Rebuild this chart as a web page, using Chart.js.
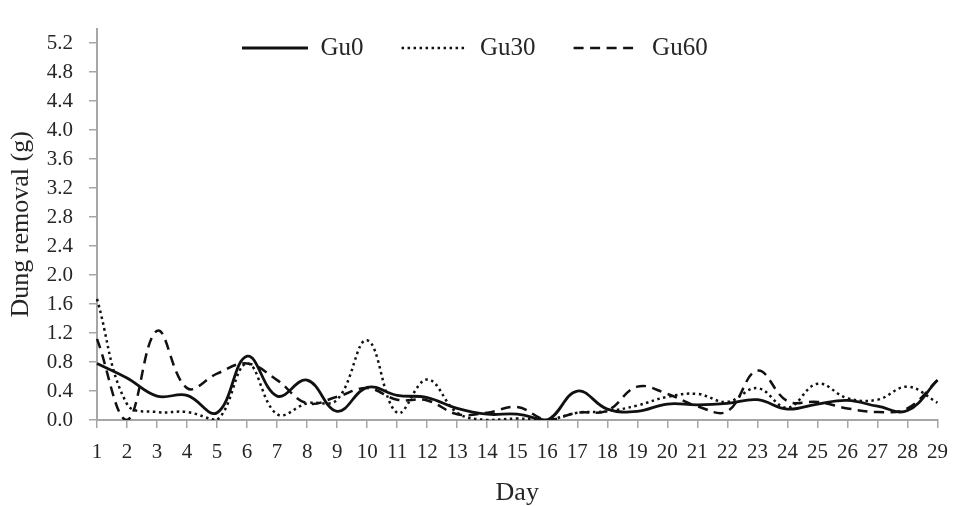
<!DOCTYPE html>
<html>
<head>
<meta charset="utf-8">
<script src="https://cdn.jsdelivr.net/npm/chart.js@4"></script>
<style>
  html, body { margin: 0; padding: 0; background: #ffffff; }
  #wrap { width: 960px; height: 506px; }
</style>
</head>
<body>
<div id="wrap"><canvas id="c" width="960" height="506"></canvas></div>
<script>
const days = ['1','2','3','4','5','6','7','8','9','10','11','12','13','14','15','16','17','18','19','20','21','22','23','24','25','26','27','28','29'];
const gu0  = [0.78,0.58,0.33,0.34,0.10,0.88,0.33,0.55,0.12,0.45,0.34,0.31,0.16,0.08,0.08,0.00,0.40,0.15,0.12,0.22,0.21,0.23,0.28,0.15,0.22,0.27,0.19,0.13,0.55];
const gu30 = [1.67,0.22,0.11,0.11,0.00,0.78,0.08,0.23,0.28,1.10,0.10,0.56,0.10,0.00,0.02,0.00,0.10,0.12,0.20,0.32,0.36,0.25,0.44,0.17,0.50,0.30,0.28,0.46,0.24];
const gu60 = [1.12,0.00,1.23,0.44,0.64,0.78,0.55,0.23,0.32,0.44,0.28,0.27,0.08,0.10,0.18,0.00,0.10,0.13,0.46,0.36,0.19,0.12,0.68,0.26,0.25,0.16,0.11,0.16,0.55];
const seriesNames = ['Gu0','Gu30','Gu60'];
const yTickValues = [0,0.4,0.8,1.2,1.6,2.0,2.4,2.8,3.2,3.6,4.0,4.4,4.8,5.2];
const yMax = 5.4;
const xTitle = 'Day';
const yTitle = 'Dung removal (g)';

const FONT = "'Liberation Serif', 'Times New Roman', serif";
const TEXT = '#262626';
const AXIS = '#a6a6a6';
const LINE = '#111111';

const legendPlacer = {
  id: 'legendPlacer',
  beforeLayout(chart) {
    const lg = chart.legend;
    if (lg) lg.isHorizontal = () => true;
  },
  afterLayout(chart) {
    const lg = chart.legend;
    if (!lg) return;
    const pad = lg.options.labels.padding;
    lg.left = 242 - pad;
    lg.right = lg.left + 800;
    lg.top = 48 - pad - lg.options.labels.font.size / 2;
  }
};

new Chart(document.getElementById('c'), {
  type: 'line',
  data: {
    labels: days,
    datasets: [
      { label: seriesNames[0], data: gu0, borderColor: LINE, backgroundColor: LINE, borderWidth: 2.8, borderDash: [], pointRadius: 0, tension: 0.4, fill: false },
      { label: seriesNames[1], data: gu30, borderColor: LINE, backgroundColor: LINE, borderWidth: 2.5, borderDash: [2.5, 3.5], pointRadius: 0, tension: 0.4, fill: false },
      { label: seriesNames[2], data: gu60, borderColor: LINE, backgroundColor: LINE, borderWidth: 2.5, borderDash: [10, 6.5], pointRadius: 0, tension: 0.4, fill: false }
    ]
  },
  options: {
    responsive: false,
    animation: false,
    devicePixelRatio: 1,
    layout: { padding: { top: 15, right: 14, left: 0, bottom: 0 } },
    plugins: {
      legend: {
        position: 'chartArea',
        align: 'start',
        labels: {
          usePointStyle: true,
          pointStyle: 'line',
          pointStyleWidth: 66,
          padding: 38,
          color: TEXT,
          font: { family: FONT, size: 25 },
          generateLabels(chart) {
            const items = Chart.defaults.plugins.legend.labels.generateLabels(chart);
            return items.map(it => {
              const ds = chart.data.datasets[it.datasetIndex];
              it.lineDash = ds.borderDash || [];
              it.lineWidth = ds.borderWidth;
              it.strokeStyle = ds.borderColor;
              it.fillStyle = ds.borderColor;
              return it;
            });
          }
        }
      },
      tooltip: { enabled: false }
    },
    scales: {
      x: {
        type: 'category',
        offset: false,
        afterFit(scale) { scale.height = 86; },
        grid: { display: true, drawOnChartArea: false, drawTicks: true, tickLength: 8, color: AXIS, lineWidth: 1.5, offset: false },
        border: { display: true, color: AXIS, width: 2 },
        ticks: { color: TEXT, font: { family: FONT, size: 21 }, padding: 12, maxRotation: 0, autoSkip: false },
        title: { display: true, text: xTitle, color: TEXT, font: { family: FONT, size: 26 }, padding: { top: 0, bottom: -3 } }
      },
      y: {
        min: 0,
        max: yMax,
        afterFit(scale) { scale.width = 97; },
        afterBuildTicks(scale) { scale.ticks = yTickValues.map(v => ({ value: v })); },
        grid: { display: true, drawOnChartArea: false, drawTicks: true, tickLength: 8, color: AXIS, lineWidth: 1.5 },
        border: { display: true, color: AXIS, width: 2 },
        ticks: { color: TEXT, font: { family: FONT, size: 21 }, padding: 16, callback: v => Number(v).toFixed(1) },
        title: { display: true, text: yTitle, color: TEXT, font: { family: FONT, size: 26 }, padding: { top: 6, bottom: 0 } }
      }
    }
  },
  plugins: [legendPlacer]
});
</script>
</body>
</html>
